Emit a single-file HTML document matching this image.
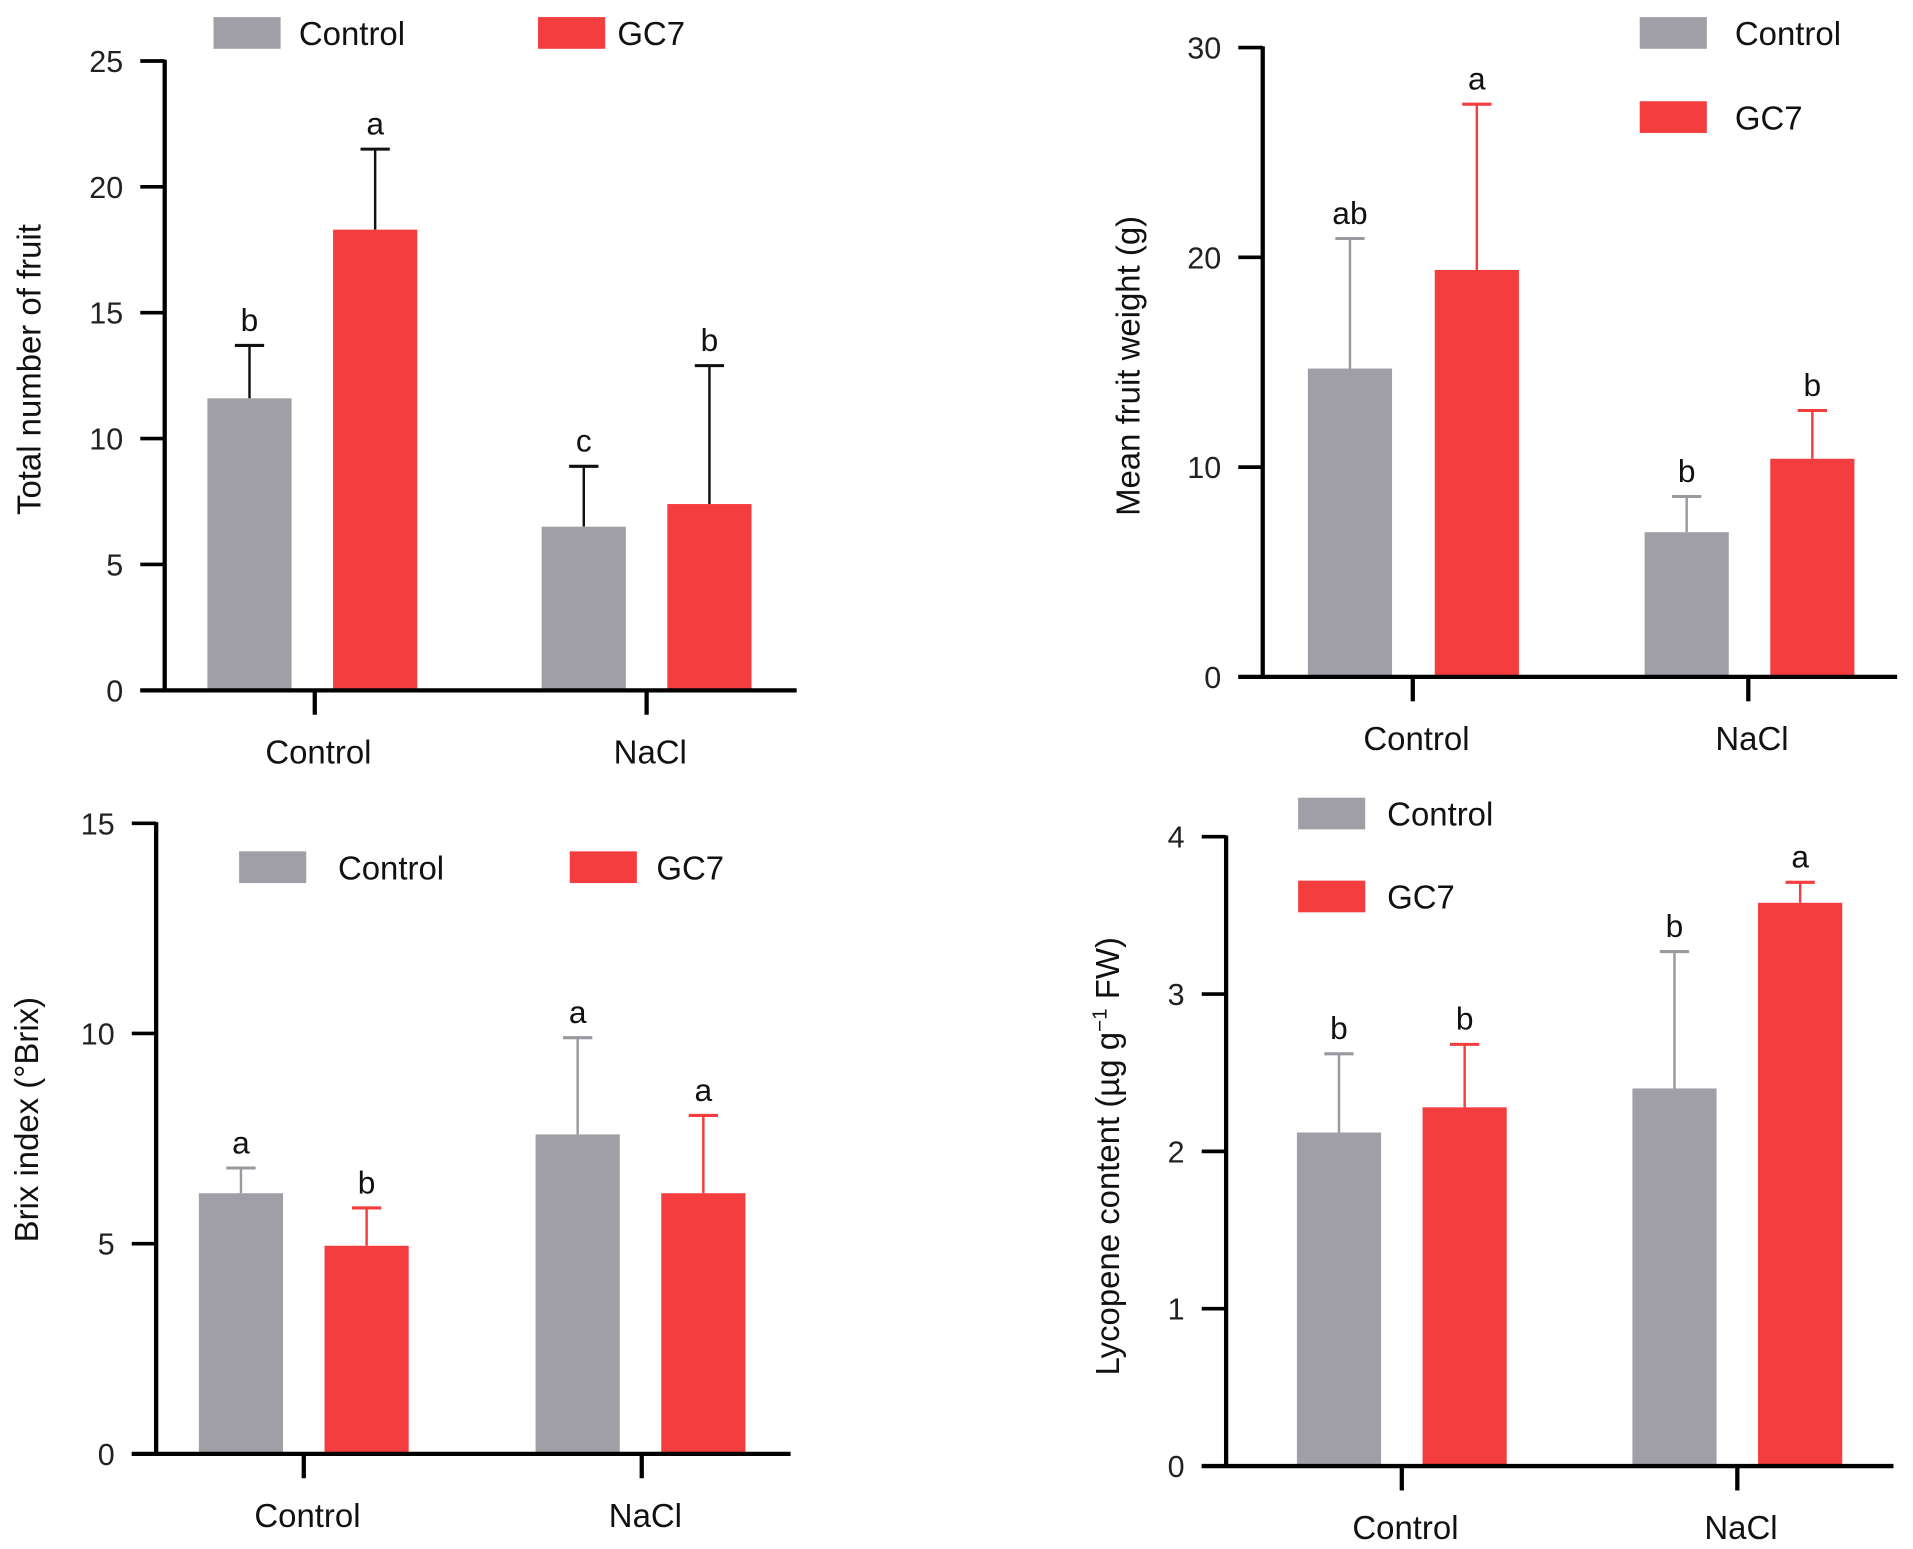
<!DOCTYPE html>
<html><head><meta charset="utf-8"><style>
html,body{margin:0;padding:0;background:#fff;}
svg{display:block;font-family:"Liberation Sans",Arial,sans-serif;}
</style></head><body>
<svg id="fig" width="1913" height="1549" viewBox="0 0 1568 1270" preserveAspectRatio="none" xmlns="http://www.w3.org/2000/svg"></svg>
<script>
const groups = ["Control","NaCl"];
const series = ["Control","GC7"];
const p1Means = [[11.6,18.3],[6.5,7.4]];
const p1Errs = [[13.7,21.5],[8.9,12.9]];
const p1Letters = [["b","a"],["c","b"]];
const p1Ticks = [0,5,10,15,20,25];
const p2Means = [[14.7,19.4],[6.9,10.4]];
const p2Errs = [[20.9,27.3],[8.6,12.7]];
const p2Letters = [["ab","a"],["b","b"]];
const p2Ticks = [0,10,20,30];
const p3Means = [[6.2,4.95],[7.6,6.2]];
const p3Errs = [[6.8,5.85],[9.9,8.05]];
const p3Letters = [["a","b"],["a","a"]];
const p3Ticks = [0,5,10,15];
const p4Means = [[2.12,2.28],[2.4,3.58]];
const p4Errs = [[2.62,2.68],[3.27,3.71]];
const p4Letters = [["b","b"],["b","a"]];
const p4Ticks = [0,1,2,3,4];

const NS="http://www.w3.org/2000/svg";
const svg=document.getElementById('fig');
const COL=["#a09fa6","#f43d3f"];
function mk(tag,attrs,parent,text){const e=document.createElementNS(NS,tag);for(const k in attrs)e.setAttribute(k,attrs[k]);if(text!==undefined)e.textContent=text;(parent||svg).appendChild(e);return e;}

function panel(cfg){
  const g=mk('g',{});
  
  
  const ymax=cfg.ticks[cfg.ticks.length-1];
  const Y=v=>cfg.y0-(v/ymax)*(cfg.y0-cfg.ytop);
  for(let gi=0;gi<2;gi++)for(let si=0;si<2;si++){
    const x=cfg.barX[gi][si], w=69;
    const m=cfg.means[gi][si], e=cfg.errs[gi][si];
    const ec=cfg.black?"#111":(si==0?"#9a99a0":"#f43d3f");
    const ln=mk('line',{x1:x+w/2,x2:x+w/2,y1:Y(m),y2:Y(e),stroke:ec,'stroke-width':2},g);
    
    
    const cap=mk('line',{x1:x+w/2-12,x2:x+w/2+12,y1:Y(e),y2:Y(e),stroke:ec,'stroke-width':2.5},g);
    
    
    const r=mk('rect',{x:x,y:Y(m),width:w,height:cfg.y0-Y(m),fill:COL[si]},g);
    
    
    const t=mk('text',{x:x+w/2,y:Y(e)-12,'text-anchor':'middle','font-size':26,fill:'#111'},g,cfg.letters[gi][si]);
    
    
  }
  const ya=mk('line',{x1:cfg.ax,x2:cfg.ax,y1:cfg.ytop-1,y2:cfg.y0+1.5,stroke:'#000','stroke-width':3.5},g);
  
  
  const xa=mk('line',{x1:cfg.ax-20,x2:cfg.axEnd,y1:cfg.y0,y2:cfg.y0,stroke:'#000','stroke-width':3.5},g);
  
  
  cfg.ticks.forEach(v=>{
    const tl=mk('line',{x1:cfg.ax-20,x2:cfg.ax,y1:Y(v),y2:Y(v),stroke:'#000','stroke-width':3},g);
    
    
    const tt=mk('text',{x:cfg.ax-34,y:Y(v)+9,'text-anchor':'end','font-size':25,fill:'#222'},g,String(v));
    
    
  });
  cfg.tickX.forEach((x,i)=>{
    const tl=mk('line',{x1:x,x2:x,y1:cfg.y0,y2:cfg.y0+20,stroke:'#000','stroke-width':3.5},g);
    
    
    const tt=mk('text',{x:x+3,y:cfg.y0+60,'text-anchor':'middle','font-size':27,fill:'#111'},g,groups[i]);
    
    
  });
  const yl=mk('text',{x:0,y:0,'text-anchor':'middle','font-size':27,fill:'#111',transform:`translate(${cfg.ylx},${cfg.yly}) rotate(-90)`},g);
  
  
  yl.innerHTML=cfg.ylabel;
  cfg.legend.forEach((L,si)=>{
    const lr=mk('rect',{x:L[0],y:L[1],width:55,height:26,fill:COL[si]},g);
    
    
    const lt=mk('text',{x:L[2],y:L[1]+23,'font-size':27,fill:'#111'},g,series[si]);
    
    
  });
}
panel({name:'chart-total-fruit',means:p1Means,errs:p1Errs,letters:p1Letters,ticks:p1Ticks,black:true,
  ax:135,axEnd:653,y0:566,ytop:50,barX:[[170,273],[444,547]],tickX:[258,530],
  ylx:33,yly:303,ylabel:'Total number of fruit',legend:[[175,14,245],[441,14,506]]});
panel({name:'chart-mean-fruit-weight',means:p2Means,errs:p2Errs,letters:p2Letters,ticks:p2Ticks,
  ax:1035,axEnd:1555,y0:555,ytop:39,barX:[[1072,1176],[1348,1451]],tickX:[1158,1433],
  ylx:934,yly:300,ylabel:'Mean fruit weight (g)',legend:[[1344,14,1422],[1344,83,1422]]});
panel({name:'chart-brix-index',means:p3Means,errs:p3Errs,letters:p3Letters,ticks:p3Ticks,
  ax:128,axEnd:648,y0:1192,ytop:675,barX:[[163,266],[439,542]],tickX:[249,526],
  ylx:31,yly:918,ylabel:'Brix index (°Brix)',legend:[[196,698,277],[467,698,538]]});
panel({name:'chart-lycopene-content',means:p4Means,errs:p4Errs,letters:p4Letters,ticks:p4Ticks,
  ax:1005,axEnd:1552,y0:1202,ytop:686,barX:[[1063,1166],[1338,1441]],tickX:[1149,1424],
  ylx:917,yly:948,ylabel:'Lycopene content (µg g<tspan dy="-10" font-size="17">−1</tspan><tspan dy="10"> FW)</tspan>',legend:[[1064,654,1137],[1064,722,1137]]});
</script>
</body></html>
